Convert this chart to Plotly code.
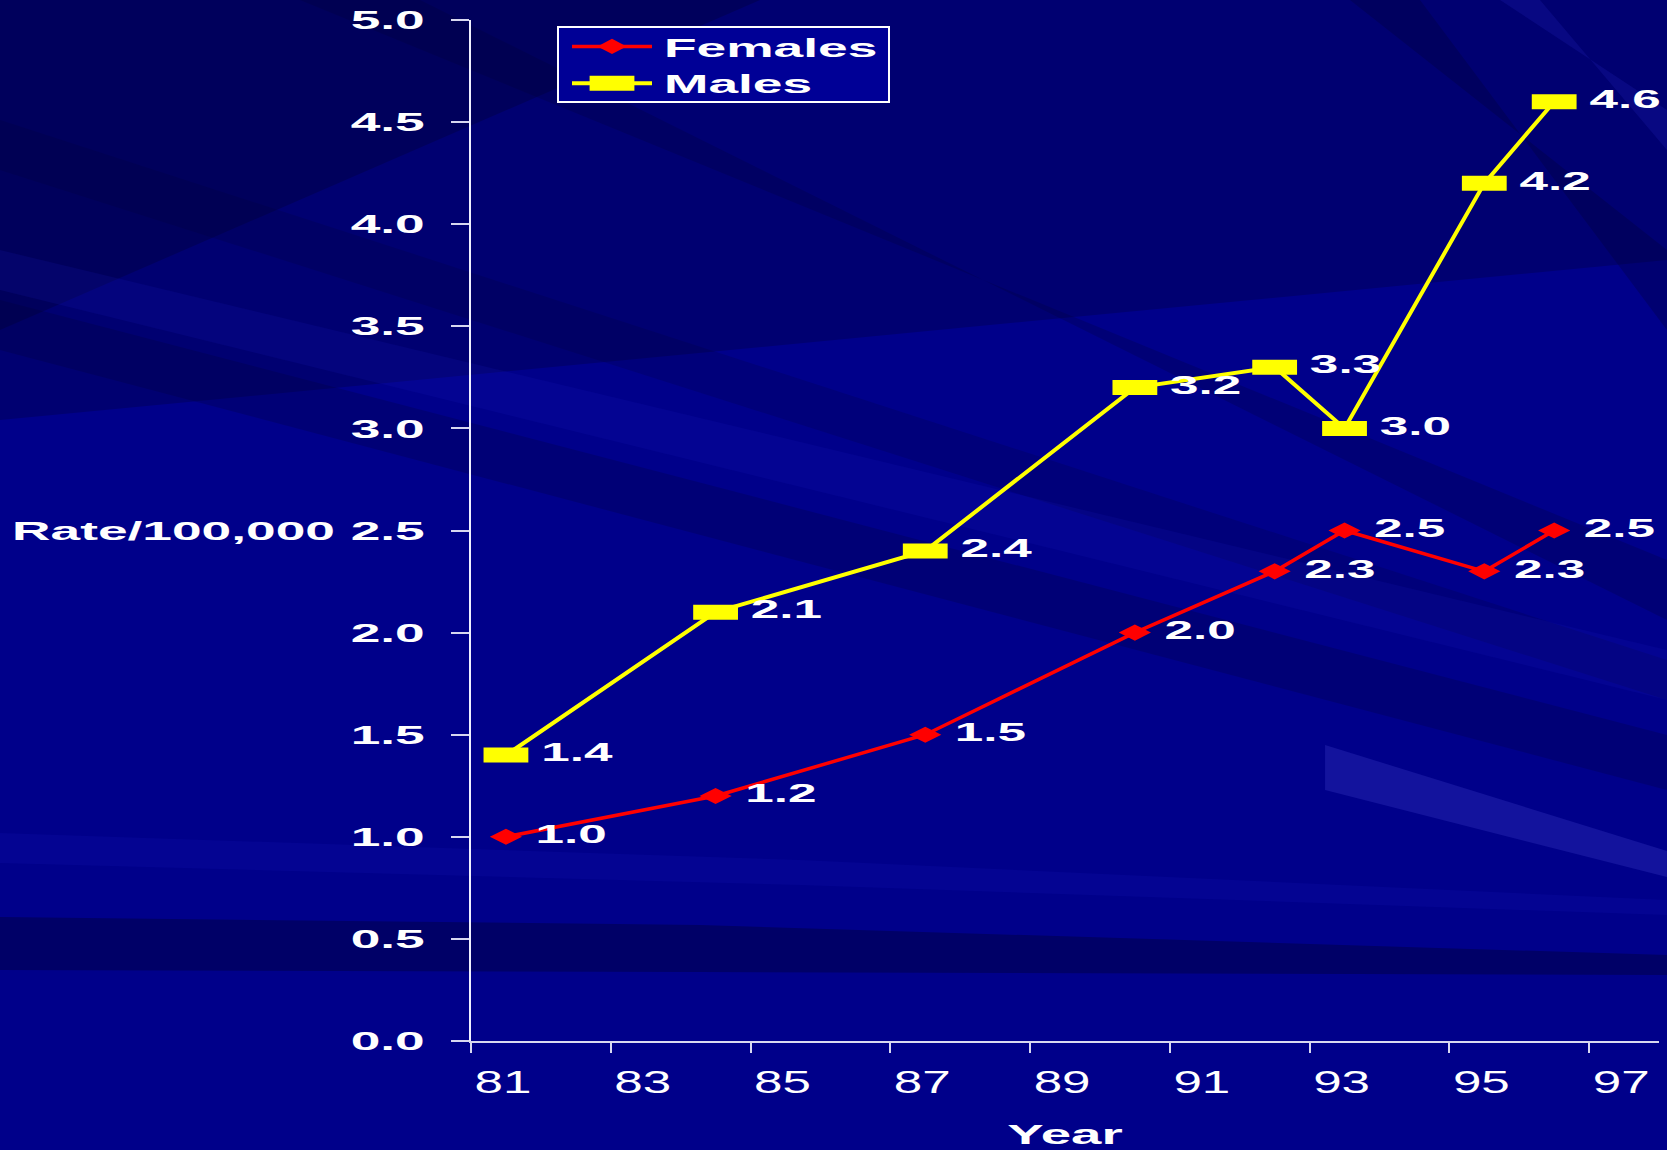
import plotly.graph_objects as go

# ---- data ----
years = [81, 84, 87, 90, 92, 93, 95, 96]
females = [1.0, 1.2, 1.5, 2.0, 2.3, 2.5, 2.3, 2.5]
males = [1.4, 2.1, 2.4, 3.2, 3.3, 3.0, 4.2, 4.6]
tick_years = [81, 83, 85, 87, 89, 91, 93, 95, 97]
tick_labels = [str(y) for y in tick_years]
y_ticks = [0.0, 0.5, 1.0, 1.5, 2.0, 2.5, 3.0, 3.5, 4.0, 4.5, 5.0]

# ---- layout geometry ----
W, H = 1667, 1150
ML, MR, MT, MB = 471, 8, 20, 109
PW, PH = W - ML - MR, H - MT - MB
FONT = "Liberation Sans, Arial, sans-serif"


def to_paper(x, y):
    return (x - ML) / PW, (H - MB - y) / PH


def poly(pts, color):
    path = ""
    for i, (x, y) in enumerate(pts):
        px, py = to_paper(x, y)
        path += ("M" if i == 0 else "L") + f"{px:.4f},{py:.4f}"
    path += "Z"
    return dict(type="path", xref="paper", yref="paper", path=path,
                fillcolor=color, line=dict(width=0), layer="below")


shapes = [
    poly([(0, 0), (1667, 0), (1667, 260), (0, 420)], "rgba(0,0,40,0.25)"),
    poly([(0, 0), (760, 0), (0, 330)], "rgba(0,0,40,0.28)"),
    poly([(0, 300), (0, 350), (1667, 790), (1667, 735)], "rgba(0,0,50,0.22)"),
    poly([(300, 0), (420, 0), (1667, 620), (1667, 560)], "rgba(0,0,50,0.22)"),
    poly([(0, 120), (0, 170), (1667, 700), (1667, 660)], "rgba(0,0,50,0.18)"),
    poly([(1350, 0), (1420, 0), (1667, 330), (1667, 250)], "rgba(0,0,50,0.28)"),
    poly([(1500, 0), (1540, 0), (1667, 150), (1667, 110)], "rgba(40,40,200,0.20)"),
    poly([(0, 250), (0, 290), (1667, 700), (1667, 650)], "rgba(30,30,200,0.14)"),
    poly([(1325, 745), (1667, 851), (1667, 877), (1325, 790)], "rgba(70,70,210,0.28)"),
    poly([(0, 917), (700, 925), (1667, 955), (1667, 975), (700, 972), (0, 970)], "rgba(0,0,50,0.40)"),
    poly([(0, 833), (800, 860), (1667, 900), (1667, 915), (800, 885), (0, 863)], "rgba(20,20,180,0.20)"),
]

fig = go.Figure()

fig.add_trace(go.Scatter(
    x=years, y=females, name="Females", mode="lines+markers+text",
    line=dict(color="#FF0000", width=3.5),
    marker=dict(symbol="diamond-wide", size=23, color="#FF0000"),
    texttemplate="\u00a0%{y:.1f}", textposition="middle right",
    textfont=dict(family=FONT, size=25, color="white", weight="bold"),
    cliponaxis=False,
))
fig.add_trace(go.Scatter(
    x=years, y=males, name="Males", mode="lines+markers+text",
    line=dict(color="#FFFF00", width=4),
    marker=dict(symbol="line-ew", size=32, color="#FFFF00",
                line=dict(color="#FFFF00", width=15)),
    texttemplate="\u00a0%{y:.1f}", textposition="middle right",
    textfont=dict(family=FONT, size=25, color="white", weight="bold"),
    cliponaxis=False,
))

fig.update_layout(
    width=W, height=H,
    margin=dict(l=ML, r=MR, t=MT, b=MB, autoexpand=False),
    paper_bgcolor="#00008A",
    plot_bgcolor="rgba(0,0,0,0)",
    font=dict(family=FONT, color="white"),
    shapes=shapes,
    showlegend=True,
    legend=dict(
        x=(557 - ML) / PW, y=1 - (21 - MT) / PH, xanchor="left", yanchor="top",
        bgcolor="#000096", bordercolor="white", borderwidth=2,
        font=dict(family=FONT, size=26, color="white", weight="bold"),
        itemwidth=80, tracegroupgap=0,
    ),
    xaxis=dict(
        range=[80.5, 97.5], automargin=False,
        tickvals=[t - 0.5 for t in tick_years], ticktext=tick_labels,
        ticks="outside", ticklen=10, tickwidth=2, tickcolor="#D8D8F0",
        showline=True, linecolor="#D8D8F0", linewidth=2,
        showgrid=False, zeroline=False,
        tickfont=dict(family=FONT, size=31, color="white"),
        ticklabelshift=32, ticklabelstandoff=3,
        title=dict(text="Year", standoff=27,
                   font=dict(family=FONT, size=28, color="white", weight="bold")),
    ),
    yaxis=dict(
        range=[0, 5], tickvals=y_ticks, tickformat=".1f", automargin=False,
        ticks="outside", ticklen=18, tickwidth=2, tickcolor="#D8D8F0",
        showline=True, linecolor="#F0F0FF", linewidth=2,
        showgrid=False, zeroline=False,
        tickfont=dict(family=FONT, size=26, color="white", weight="bold"),
        ticklabelstandoff=21,
    ),
    annotations=[dict(
        text="Rate/100,000", xref="paper", yref="y",
        x=(10 - ML) / PW, y=2.5, xanchor="left", yanchor="middle",
        align="left", showarrow=False,
        font=dict(family=FONT, size=26, color="white", weight="bold"),
    )],
)

post = """
(function(){
  document.documentElement.style.margin = '0';
  document.body.style.margin = '0';
  document.body.style.padding = '0';
  var gd = document.getElementById('{plot_id}');
  function stretch(){
    if(!gd) return;
    gd.querySelectorAll('text').forEach(function(t){
      if(t.getAttribute('data-st')) return;
      var f = 2.05;
      if(t.closest('.xtick')) f = 1.65;
      if(t.closest('.g-xtitle')) f = 1.95;
      var isLeg = t.classList.contains('legendtext');
      var len = t.getComputedTextLength();
      if(!len) return;
      t.setAttribute('textLength', (len*f).toFixed(1));
      t.setAttribute('lengthAdjust', 'spacingAndGlyphs');
      if(isLeg){
        var x0 = parseFloat(t.getAttribute('x') || '0');
        t.setAttribute('x', (x0 + 15).toFixed(1));
      }
      t.setAttribute('data-st', '1');
    });
    var leg = gd.querySelector('.legend');
    if(leg && !leg.getAttribute('data-fx')){
      var sb = leg.querySelector('.scrollbox');
      if(sb) sb.removeAttribute('clip-path');
      var bg = leg.querySelector('rect.bg');
      var right = 0;
      leg.querySelectorAll('text.legendtext').forEach(function(t){
        right = Math.max(right, t.getBoundingClientRect().right);
      });
      if(bg && right){
        var left = bg.getBoundingClientRect().left;
        bg.setAttribute('width', (right - left + 12).toFixed(1));
        bg.setAttribute('y', '6');
        bg.setAttribute('height', '75');
      }
      var tr = leg.querySelectorAll('.traces');
      var sc = ['scale(1.3,1.35)', 'scale(2,3)'];
      tr.forEach(function(g, i){
        var ly = g.querySelector('.layers');
        if(ly) ly.setAttribute('transform', 'translate(8,0)');
        g.querySelectorAll('.legendpoints path.scatterpts').forEach(function(p){
          var tf = p.getAttribute('transform') || '';
          p.setAttribute('transform', tf + ' ' + (sc[i] || ''));
        });
      });
      leg.setAttribute('data-fx', '1');
    }
  }
  stretch();
  if(gd && gd.on) gd.on('plotly_afterplot', stretch);
  setTimeout(stretch, 300);
})();
"""

fig.write_html("out.html", post_script=post, config={"displayModeBar": False})
